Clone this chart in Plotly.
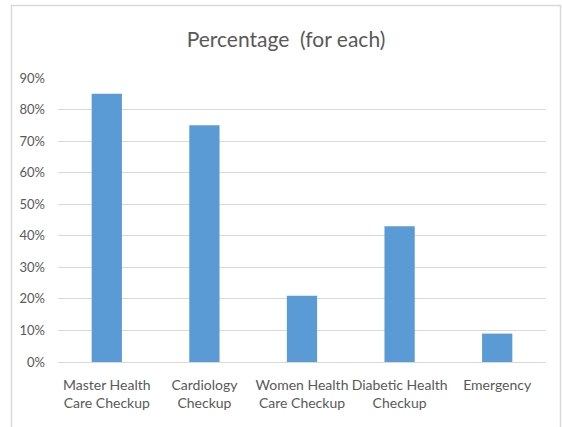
import plotly.graph_objects as go

# Service categories (two-line labels) and share of respondents
categories = [
    "Master Health<br>Care Checkup",
    "Cardiology<br>Checkup",
    "Women Health<br>Care Checkup",
    "Diabetic Health<br>Checkup",
    "Emergency",
]
percentages = [0.85, 0.75, 0.21, 0.43, 0.09]
y_ticks = [0, 0.1, 0.2, 0.3, 0.4, 0.5, 0.6, 0.7, 0.8, 0.9]
y_tick_labels = ["0%", "10%", "20%", "30%", "40%", "50%", "60%", "70%", "80%", "90%"]

W, H = 562, 427
ML, MR, MT, MB = 58, 16, 78, 65
plot_w = W - ML - MR
plot_h = H - MT - MB

FONT = "Lato, sans-serif"
GRID = "#d9d9d9"
TEXT = "#595959"

fig = go.Figure(
    go.Bar(
        x=categories,
        y=percentages,
        marker=dict(color="#5b9bd5", line=dict(width=0)),
    )
)


def px_to_paper_x(px):
    return (px - ML) / plot_w


def px_to_paper_y(py):
    return (H - MB - py) / plot_h


# Light frame around the chart area
fig.add_shape(
    type="rect",
    xref="paper", yref="paper",
    x0=px_to_paper_x(11.5), x1=px_to_paper_x(560.5),
    y0=px_to_paper_y(440), y1=px_to_paper_y(5.5),
    line=dict(color=GRID, width=1.5),
    fillcolor="rgba(0,0,0,0)",
    layer="below",
)

fig.update_layout(
    width=W, height=H,
    margin=dict(l=ML, r=MR, t=MT, b=MB, autoexpand=False),
    paper_bgcolor="white",
    plot_bgcolor="white",
    bargap=0.69,
    showlegend=False,
    font=dict(family=FONT, color=TEXT, size=14),
    title=dict(
        text="Percentage  (for each)",
        x=286 / W, xanchor="center",
        y=1 - 40 / H, yanchor="middle",
        yref="container",
        font=dict(family=FONT, size=21, color=TEXT),
    ),
    xaxis=dict(
        showgrid=False,
        showline=True, linecolor=GRID, linewidth=1,
        ticks="",
        tickangle=0,
        automargin=False,
        ticklabelstandoff=10,
        tickfont=dict(family=FONT, size=14, color=TEXT),
    ),
    yaxis=dict(
        range=[0, 0.9],
        tickvals=y_ticks,
        ticktext=y_tick_labels,
        showgrid=True, gridcolor=GRID, gridwidth=1,
        zeroline=False,
        showline=False,
        ticks="",
        automargin=False,
        ticklabelstandoff=12,
        tickfont=dict(family=FONT, size=13, color=TEXT),
    ),
)

fig.write_html("out.html")
